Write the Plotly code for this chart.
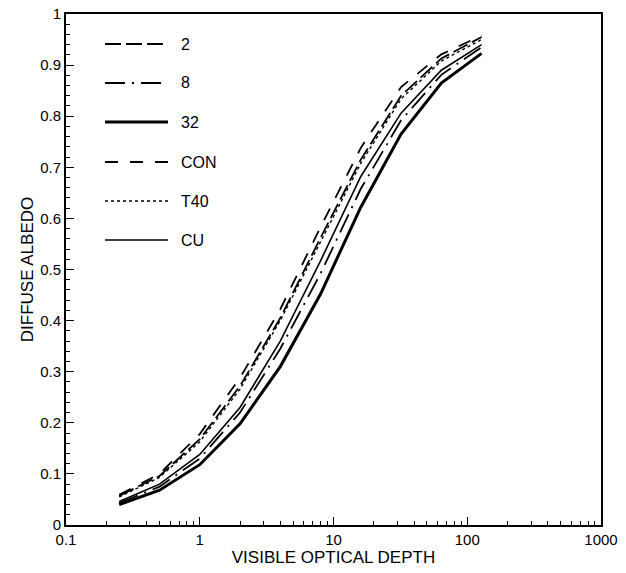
import plotly.graph_objects as go

tau = [0.25, 0.5, 1, 2, 4, 8, 16, 32, 64, 128]

alb_2 = [0.057, 0.096, 0.168, 0.272, 0.405, 0.562, 0.715, 0.840, 0.913, 0.955]
alb_8 = [0.043, 0.075, 0.130, 0.220, 0.345, 0.492, 0.658, 0.792, 0.881, 0.935]
alb_32 = [0.040, 0.068, 0.118, 0.198, 0.310, 0.452, 0.622, 0.765, 0.865, 0.923]
alb_con = [0.059, 0.100, 0.178, 0.288, 0.422, 0.583, 0.738, 0.857, 0.921, 0.958]
alb_t40 = [0.055, 0.093, 0.163, 0.266, 0.400, 0.555, 0.708, 0.834, 0.908, 0.950]
alb_cu = [0.046, 0.080, 0.138, 0.230, 0.360, 0.517, 0.682, 0.806, 0.890, 0.940]

names = ["2", "8", "32", "CON", "T40", "CU"]
series = [alb_2, alb_8, alb_32, alb_con, alb_t40, alb_cu]
dashes = ["16px,5px", "20px,7px,2px,7px", "solid", "13px,12px", "dot", "solid"]
widths = [1.8, 1.8, 3.0, 1.8, 1.4, 1.6]

x_tickvals = [0.1, 1, 10, 100, 1000]
x_ticktext = ["0.1", "1", "10", "100", "1000"]
y_tickvals = [0, 0.1, 0.2, 0.3, 0.4, 0.5, 0.6, 0.7, 0.8, 0.9, 1]
y_ticktext = ["0", "0.1", "0.2", "0.3", "0.4", "0.5", "0.6", "0.7", "0.8", "0.9", "1"]

fig = go.Figure()
for n, s, d, w in zip(names, series, dashes, widths):
    fig.add_trace(go.Scatter(x=tau, y=s, mode="lines", name=n,
                             line=dict(color="black", dash=d, width=w),
                             showlegend=False))

W, H = 626, 573
# target plot box in window pixels: x 66..601, y 14..525
L, R, T, B = 66, W - 601, 14, H - 525
pw, ph = W - L - R, H - T - B
def px(xp):
    return (xp - L) / pw
def py(yp):
    return 1 - (yp - T) / ph

leg_y = [44, 83, 122, 162, 201, 240]
for n, d, w, yy in zip(names, dashes, widths, leg_y):
    fig.add_shape(type="line", xref="paper", yref="paper",
                  x0=px(105), x1=px(168), y0=py(yy), y1=py(yy),
                  line=dict(color="black", dash=d, width=w))
    fig.add_annotation(xref="paper", yref="paper", x=px(179), y=py(yy),
                       text=n, showarrow=False, xanchor="left", yanchor="middle",
                       font=dict(family="Liberation Sans, Arial", size=16, color="black"))

fig.update_layout(
    width=W, height=H,
    margin=dict(l=L, r=R, t=T, b=B, autoexpand=False),
    plot_bgcolor="white", paper_bgcolor="white",
    font=dict(family="Liberation Sans, Arial", size=15, color="black"),
    xaxis=dict(type="log", range=[-1, 3], tickvals=x_tickvals, ticktext=x_ticktext,
               ticks="inside", ticklen=8, tickcolor="black", showgrid=False,
               showline=True, linecolor="black", linewidth=2, mirror=True,
               zeroline=False, ticklabeloverflow="allow", automargin=False,
               minor=dict(ticks="inside", ticklen=4, tickcolor="black", showgrid=False,
                          tickvals=[m * 10 ** e for e in range(-1, 3) for m in range(2, 10)]),
               title=dict(text="VISIBLE OPTICAL DEPTH", font=dict(size=17), standoff=4)),
    yaxis=dict(range=[0, 1], tickvals=y_tickvals, ticktext=y_ticktext,
               ticks="inside", ticklen=8, tickcolor="black", showgrid=False,
               showline=True, linecolor="black", linewidth=2, mirror=True,
               zeroline=False, ticklabeloverflow="allow", automargin=False,
               minor=dict(ticks="inside", ticklen=4, tickcolor="black", showgrid=False,
                          dtick=0.02),
               title=dict(text="DIFFUSE ALBEDO", font=dict(size=17), standoff=2)),
)

fig.write_html("out.html", config={"displayModeBar": False},
               post_script="document.body.style.margin='0';")
